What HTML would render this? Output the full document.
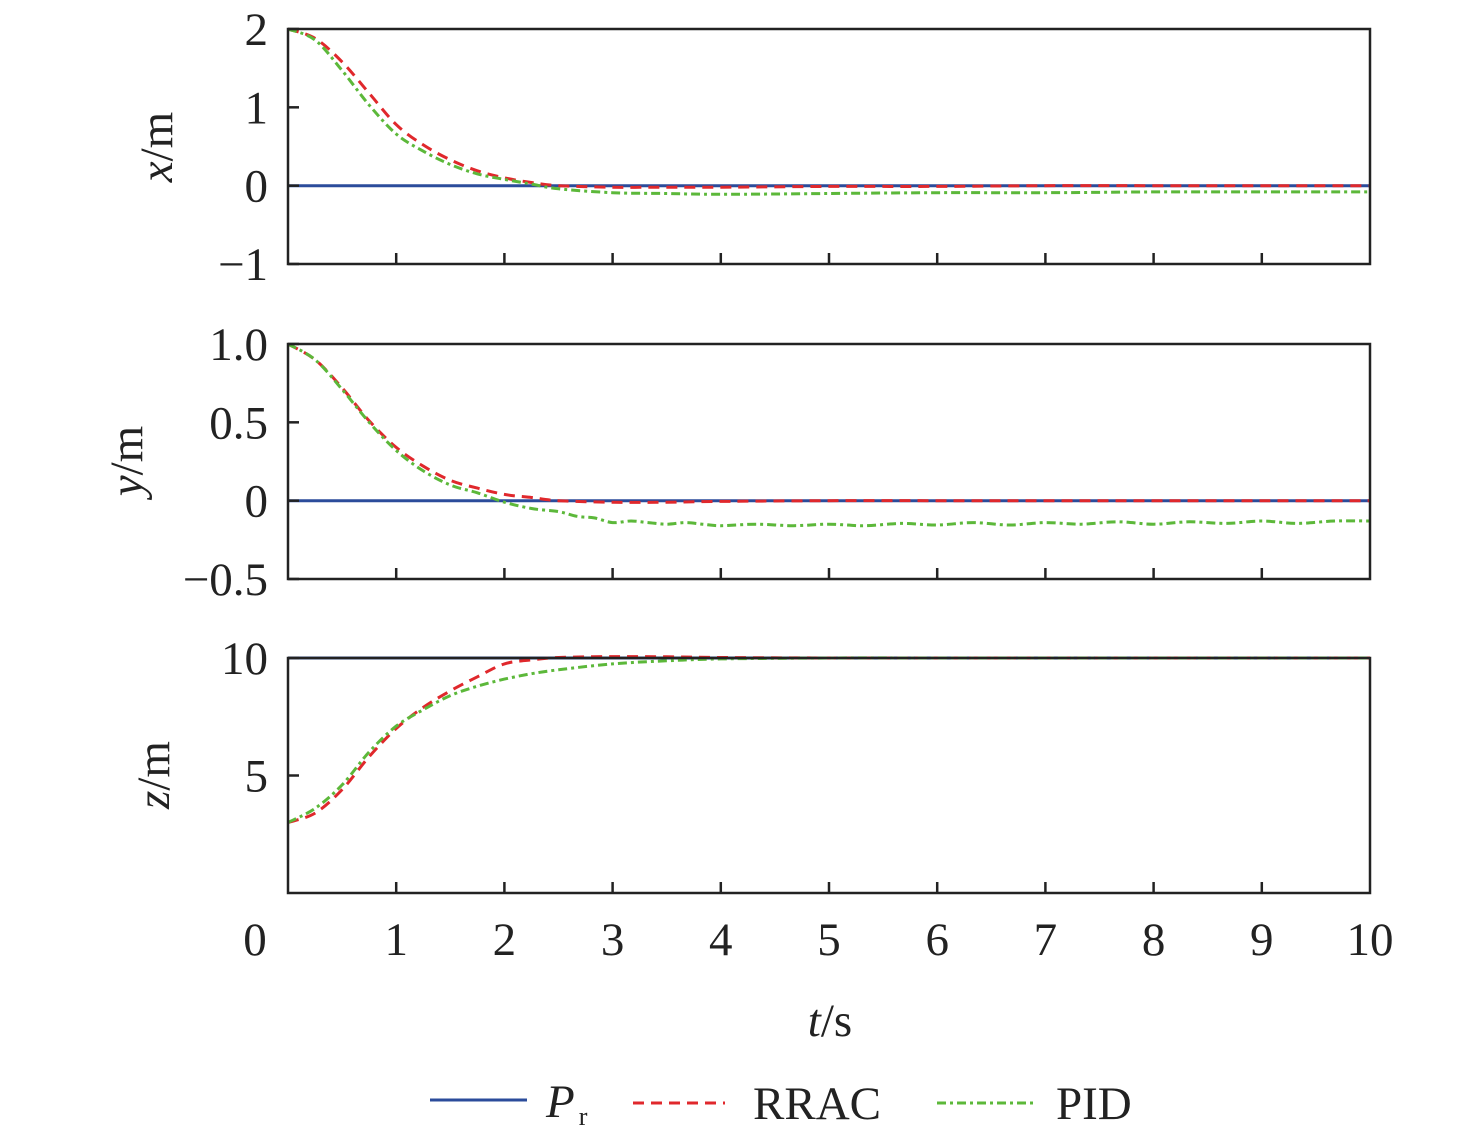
<!DOCTYPE html>
<html><head><meta charset="utf-8"><style>
html,body{margin:0;padding:0;background:#fff;}
svg text{font-family:"Liberation Serif","Times New Roman",serif;fill:#222;}
</style></head><body>
<svg id="chart" width="1476" height="1141" viewBox="0 0 1476 1141" xmlns="http://www.w3.org/2000/svg"></svg>
<script>
const tA = [0,0.25,0.5,0.75,1,1.25,1.5,1.75,2,2.25,2.5,3,3.5,4,5,6,7,8,9,10];
const xRef = [0,0,0,0,0,0,0,0,0,0,0,0,0,0,0,0,0,0,0,0];
const xRRAC = [2,1.88,1.58,1.18,0.78,0.52,0.33,0.19,0.1,0.04,0.0,-0.02,-0.02,-0.02,-0.01,-0.01,0,0,0,0];
const xPID = [2,1.86,1.47,1.03,0.66,0.44,0.27,0.15,0.08,0.02,-0.04,-0.09,-0.1,-0.11,-0.1,-0.09,-0.09,-0.08,-0.08,-0.08];
const yRef = [0,0,0,0,0,0,0,0,0,0,0,0,0,0,0,0,0,0,0,0];
const yRRAC = [1,0.9,0.72,0.51,0.34,0.22,0.13,0.08,0.04,0.02,0.0,-0.01,-0.01,-0.005,0,0,0,0,0,0];
const tY = [0,0.25,0.5,0.75,1,1.25,1.5,1.75,2,2.25,2.5,2.67,2.83,3,3.17,3.33,3.5,3.67,3.83,4,4.33,4.67,5,5.33,5.67,6,6.33,6.67,7,7.33,7.67,8,8.33,8.67,9,9.33,9.67,10];
const yPID = [1,0.9,0.71,0.5,0.32,0.19,0.1,0.05,-0.01,-0.05,-0.07,-0.1,-0.11,-0.14,-0.13,-0.14,-0.15,-0.14,-0.15,-0.16,-0.15,-0.16,-0.15,-0.16,-0.145,-0.155,-0.14,-0.155,-0.14,-0.15,-0.135,-0.15,-0.135,-0.145,-0.13,-0.145,-0.13,-0.13];
const zRef = [10,10,10,10,10,10,10,10,10,10,10,10,10,10,10,10,10,10,10,10];
const zRRAC = [3,3.4,4.4,5.8,7.0,7.9,8.6,9.2,9.75,9.92,10.02,10.06,10.05,10.02,10,10,10,10,10,10];
const zPID = [3,3.6,4.6,6.0,7.1,7.8,8.4,8.8,9.1,9.33,9.5,9.75,9.88,9.96,10,10,10,10,10,10];
const xTicks = ["0","1","2","3","4","5","6","7","8","9","10"];
const p1Ticks = [2,1,0,-1]; const p1Labels = ["2","1","0","\u22121"];
const p2Ticks = [1,0.5,0,-0.5]; const p2Labels = ["1.0","0.5","0","\u22120.5"];
const p3Ticks = [10,5]; const p3Labels = ["10","5"];

const NS="http://www.w3.org/2000/svg";
const svg=document.getElementById('chart');
function mk(tag,attrs,parent){const e=document.createElementNS(NS,tag);for(const k in attrs)e.setAttribute(k,attrs[k]);(parent||svg).appendChild(e);return e;}
const X0=288,X1=1370;
const xs=t=>X0+(t/10)*(X1-X0);
function pathFor(ts,vs,ys){
  const p=ts.map((t,i)=>[xs(t),ys(vs[i])]);
  let d='M'+p[0][0].toFixed(1)+','+p[0][1].toFixed(1);
  for(let i=0;i<p.length-1;i++){
    const p0=p[Math.max(0,i-1)],p1=p[i],p2=p[i+1],p3=p[Math.min(p.length-1,i+2)];
    const c1=[p1[0]+(p2[0]-p0[0])/6,p1[1]+(p2[1]-p0[1])/6];
    const c2=[p2[0]-(p3[0]-p1[0])/6,p2[1]-(p3[1]-p1[1])/6];
    d+=' C'+c1[0].toFixed(1)+','+c1[1].toFixed(1)+' '+c2[0].toFixed(1)+','+c2[1].toFixed(1)+' '+p2[0].toFixed(1)+','+p2[1].toFixed(1);
  }
  return d;
}
function panel(name,top,bot,vmax,vmin,ticks,labels,series){
  const g=mk('g',{});
  
  
  const ys=v=>top+(vmax-v)/(vmax-vmin)*(bot-top);
  const clipId='clip-'+name;
  const cp=mk('clipPath',{id:clipId},g);mk('rect',{x:X0,y:top-4,width:X1-X0,height:bot-top+8},cp);
  series.forEach(s=>{
    const el=mk('path',{d:pathFor(s.t,s.v,ys),fill:'none',stroke:s.c,'stroke-width':3,'stroke-dasharray':s.dash||'none','clip-path':'url(#'+clipId+')'},g);
    
    
  });
  const fr=mk('rect',{x:X0,y:top,width:X1-X0,height:bot-top,fill:'none',stroke:'#222','stroke-width':2.5},g);
  
  
  ticks.forEach((v,i)=>{
    const y=ys(v);
    mk('line',{x1:X0,x2:X0+11,y1:y,y2:y,stroke:'#222','stroke-width':2.5},g);
    const tx=mk('text',{x:268,y:y+16,'text-anchor':'end','font-size':47},g);
    tx.textContent=labels[i];
    
    
  });
  for(let i=1;i<10;i++){const x=xs(i);mk('line',{x1:x,x2:x,y1:bot,y2:bot-11,stroke:'#222','stroke-width':2.5},g);}
}
const blue='#2b4c9b',red='#e0282c',green='#5cb83a',rd='11,7',gd='9,4,3,4';
panel('x-panel',29,264,2,-1,p1Ticks,p1Labels,[
 {n:'pr',t:tA,v:xRef,c:blue},{n:'rrac',t:tA,v:xRRAC,c:red,dash:rd},{n:'pid',t:tA,v:xPID,c:green,dash:gd}]);
panel('y-panel',344,579,1,-0.5,p2Ticks,p2Labels,[
 {n:'pr',t:tA,v:yRef,c:blue},{n:'rrac',t:tA,v:yRRAC,c:red,dash:rd},{n:'pid',t:tY,v:yPID,c:green,dash:gd}]);
panel('z-panel',658,893,10,0,p3Ticks,p3Labels,[
 {n:'pr',t:tA,v:zRef,c:blue},{n:'rrac',t:tA,v:zRRAC,c:red,dash:rd},{n:'pid',t:tA,v:zPID,c:green,dash:gd}]);
xTicks.forEach((l,i)=>{
  const tx=mk('text',{x:i===0?255:xs(i),y:955,'text-anchor':'middle','font-size':47});
  tx.textContent=l;
  
  
});
</script>
<svg style="position:absolute;left:0;top:0" width="1476" height="1141">
<text transform="translate(172,147) rotate(-90)" text-anchor="middle" font-size="47"><tspan font-style="italic">x</tspan>/m</text>
<text transform="translate(142,461) rotate(-90)" text-anchor="middle" font-size="47"><tspan font-style="italic">y</tspan>/m</text>
<text transform="translate(169,775) rotate(-90)" text-anchor="middle" font-size="47"><tspan font-style="italic">z</tspan>/m</text>
<text x="830" y="1036" text-anchor="middle" font-size="47"><tspan font-style="italic">t</tspan>/s</text>
<g>
<line x1="430" x2="527" y1="1100" y2="1100" stroke="#2b4c9b" stroke-width="3"/>
<text x="546" y="1117" font-size="47"><tspan font-style="italic">P</tspan><tspan font-size="26" dy="8" dx="4">r</tspan></text>
<line x1="633" x2="725" y1="1103" y2="1103" stroke="#e0282c" stroke-width="3" stroke-dasharray="11,7"/>
<text x="753" y="1119" font-size="47">RRAC</text>
<line x1="937" x2="1035" y1="1103" y2="1103" stroke="#5cb83a" stroke-width="3" stroke-dasharray="9,4,3,4"/>
<text x="1056" y="1119" font-size="47">PID</text>
</g>
</svg>
</body></html>
